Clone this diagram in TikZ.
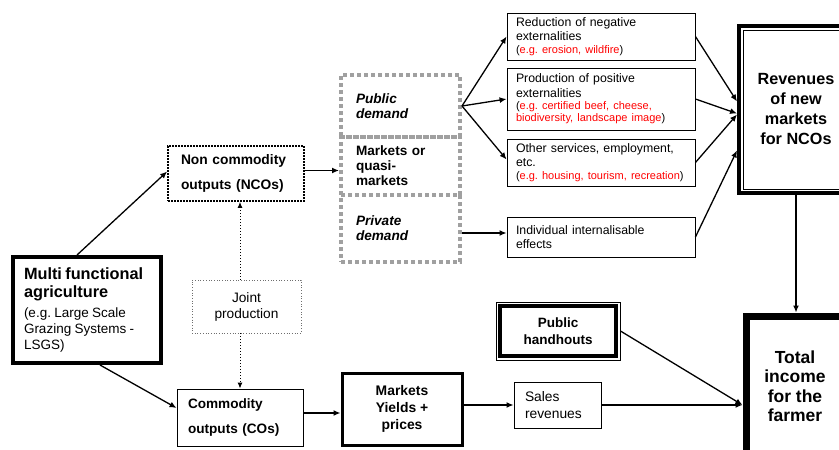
\documentclass[tikz,border=0pt]{standalone}
\usepackage{fontspec}
\setmainfont{Liberation Sans}
\usetikzlibrary{arrows.meta,calc}
\definecolor{egred}{RGB}{255,0,0}
\definecolor{demgray}{RGB}{160,160,160}
\definecolor{jointgray}{RGB}{110,110,110}
\frenchspacing
\hyphenpenalty=10000
\exhyphenpenalty=10000

\tikzset{
  plainbox/.style={draw, line width=0.9pt, inner ysep=0pt, align=left},
  cbox/.style={draw, inner sep=0pt, align=center},
  demandbox/.style={draw=demgray, line width=4pt, dash pattern=on 4pt off 3pt,
    inner ysep=0pt, inner xsep=15pt, text width=89pt, minimum width=119pt, align=left,
    font=\fontsize{13.6}{15}\selectfont\bfseries},
  effbox/.style={plainbox, inner xsep=9pt, text width=170pt, minimum width=188pt,
    font=\fontsize{12.3}{14.5}\selectfont},
  arr/.style={line width=1.3pt, -{Latex[length=7pt,width=6pt]}},
  jarr/.style={line width=1pt, dotted, -{Latex[length=6pt,width=5pt]}},
}
\newcommand\egline[1]{{\fontsize{11}{12.3}\selectfont #1\par}}

\begin{document}
\begin{tikzpicture}[x=1pt, y=-1pt]
  \useasboundingbox (0,0) rectangle (839,450);
  \clip (0,0) rectangle (839,450);

  % ---------- left column ----------
  \node[draw, line width=4pt, inner xsep=11pt, inner ysep=0pt, text width=126pt,
        minimum height=106pt, align=left] (multi) at (87,310)
    {{\fontsize{16.3}{18}\selectfont\bfseries Multi functional\\agriculture\par}\vspace{4pt}%
     {\fontsize{13.5}{16}\selectfont (e.g. Large Scale\\Grazing Systems -\\LSGS)\par}};

  \node[draw, line width=1.7pt, dash pattern=on 1.6pt off 1.4pt, inner xsep=13pt,
        inner ysep=0pt, text width=110pt, minimum height=55pt, align=left,
        font=\fontsize{13.8}{25}\selectfont\bfseries] (nco) at (236,173.5)
    {Non commodity\\outputs (NCOs)};

  \node[cbox, draw=jointgray, line width=0.7pt, dotted, minimum width=109pt,
        minimum height=53pt, font=\fontsize{13.7}{16}\selectfont] (joint) at (246.5,306.5)
    {Joint\\production};

  \node[plainbox, inner xsep=11pt, text width=104pt, minimum height=57pt,
        font=\fontsize{13.6}{25}\selectfont\bfseries] (co) at (240,417.5)
    {Commodity\\outputs (COs)};

  % ---------- demand column ----------
  \node[demandbox, minimum height=62pt] (pubd) at (400.5,106)
    {\itshape Public\\demand};
  \node[demandbox, minimum height=58pt] (mkt) at (400.5,166)
    {Markets or\\quasi-\\markets};
  \node[demandbox, minimum height=67pt] (privd) at (400.5,228.5)
    {\itshape Private\\demand};

  % ---------- effects column ----------
  \node[effbox, minimum height=47pt] (red) at (601,36.5)
    {Reduction of negative\\externalities\par
     \egline{({\color{egred}e.g. erosion, wildfire})}};
  \node[effbox, minimum height=62pt] (prod) at (601,99)
    {Production of positive\\externalities\par
     \egline{({\color{egred}e.g. certified beef, cheese,}\\{\color{egred}biodiversity, landscape image})}};
  \node[effbox, minimum height=47pt] (other) at (601,162.5)
    {Other services, employment,\\etc.\par
     \egline{({\color{egred}e.g. housing, tourism, recreation})}};
  \node[effbox, minimum height=40pt] (indiv) at (601,237)
    {Individual internalisable\\effects};

  % ---------- revenues and income ----------
  \node[cbox, line width=4pt, minimum width=114pt, minimum height=167pt,
        font=\fontsize{16.2}{20}\selectfont\bfseries] (rev) at (796,109.5)
    {Revenues\\of new\\markets\\for NCOs};
  \draw[line width=0.9pt] ($(rev.north west)+(6pt,-6pt)$) rectangle ($(rev.south east)+(-6pt,6pt)$);

  \node[cbox, line width=7pt, minimum width=98pt, minimum height=140pt,
        font=\fontsize{17.5}{19.5}\selectfont\bfseries] (tot) at (795,386)
    {Total\\income\\for the\\farmer};

  \node[cbox, line width=0.9pt, minimum width=124pt, minimum height=58pt,
        font=\fontsize{13.5}{17}\selectfont\bfseries] (hand) at (558,331)
    {Public\\handhouts};
  \draw[line width=4.4pt] ($(hand.north west)+(4.5pt,-4.5pt)$) rectangle ($(hand.south east)+(-4.5pt,4.5pt)$);

  \node[cbox, line width=3pt, minimum width=120pt, minimum height=72pt,
        font=\fontsize{13.9}{17}\selectfont\bfseries] (mky) at (402,409)
    {Markets\\Yields +\\prices};

  \node[plainbox, inner xsep=11pt, text width=65pt, minimum height=46pt,
        font=\fontsize{13.8}{17}\selectfont] (sales) at (557.5,405)
    {Sales\\revenues};

  % ---------- connectors ----------
  \draw[arr] ([xshift=-10pt]multi.north) -- ([yshift=2pt]nco.west);
  \draw[arr] ([xshift=13pt]multi.south) -- ([yshift=9.5pt]co.west);

  \draw[jarr] ([xshift=-6.5pt]joint.north) coordinate (jt) -- (jt |- nco.south);
  \draw[jarr] ([xshift=-6.5pt]joint.south) coordinate (jb) -- (jb |- co.north);

  \draw[arr] ([yshift=3pt]nco.east) coordinate (n1) -- (n1 -| mkt.west);

  \draw[arr] (pubd.east) -- (red.west);
  \draw[arr] (pubd.east) -- (prod.west);
  \draw[arr] (pubd.east) -- ([yshift=3pt]other.west);
  \draw[arr] ([yshift=-4.5pt]privd.east) coordinate (p1) -- (p1 -| indiv.west);

  \draw[arr] (red.east) -- ([yshift=8pt]rev.west);
  \draw[arr] (prod.east) -- ([yshift=-4pt]rev.west);
  \draw[arr] (other.east) -- ([yshift=-5pt]rev.west);
  \draw[arr] (indiv.east) -- ([yshift=-41pt]rev.west);

  \draw[arr] (rev.south) -- (rev.south |- tot.north);

  \draw[arr] ([yshift=4.5pt]co.east) coordinate (c1) -- (c1 -| mky.west);
  \draw[arr] (sales.west -| mky.east) -- (sales.west);
  \draw[arr] (sales.east) -- (sales.east -| tot.west);
  \draw[arr] (hand.east) -- (sales.east -| tot.west);
\end{tikzpicture}
\end{document}
